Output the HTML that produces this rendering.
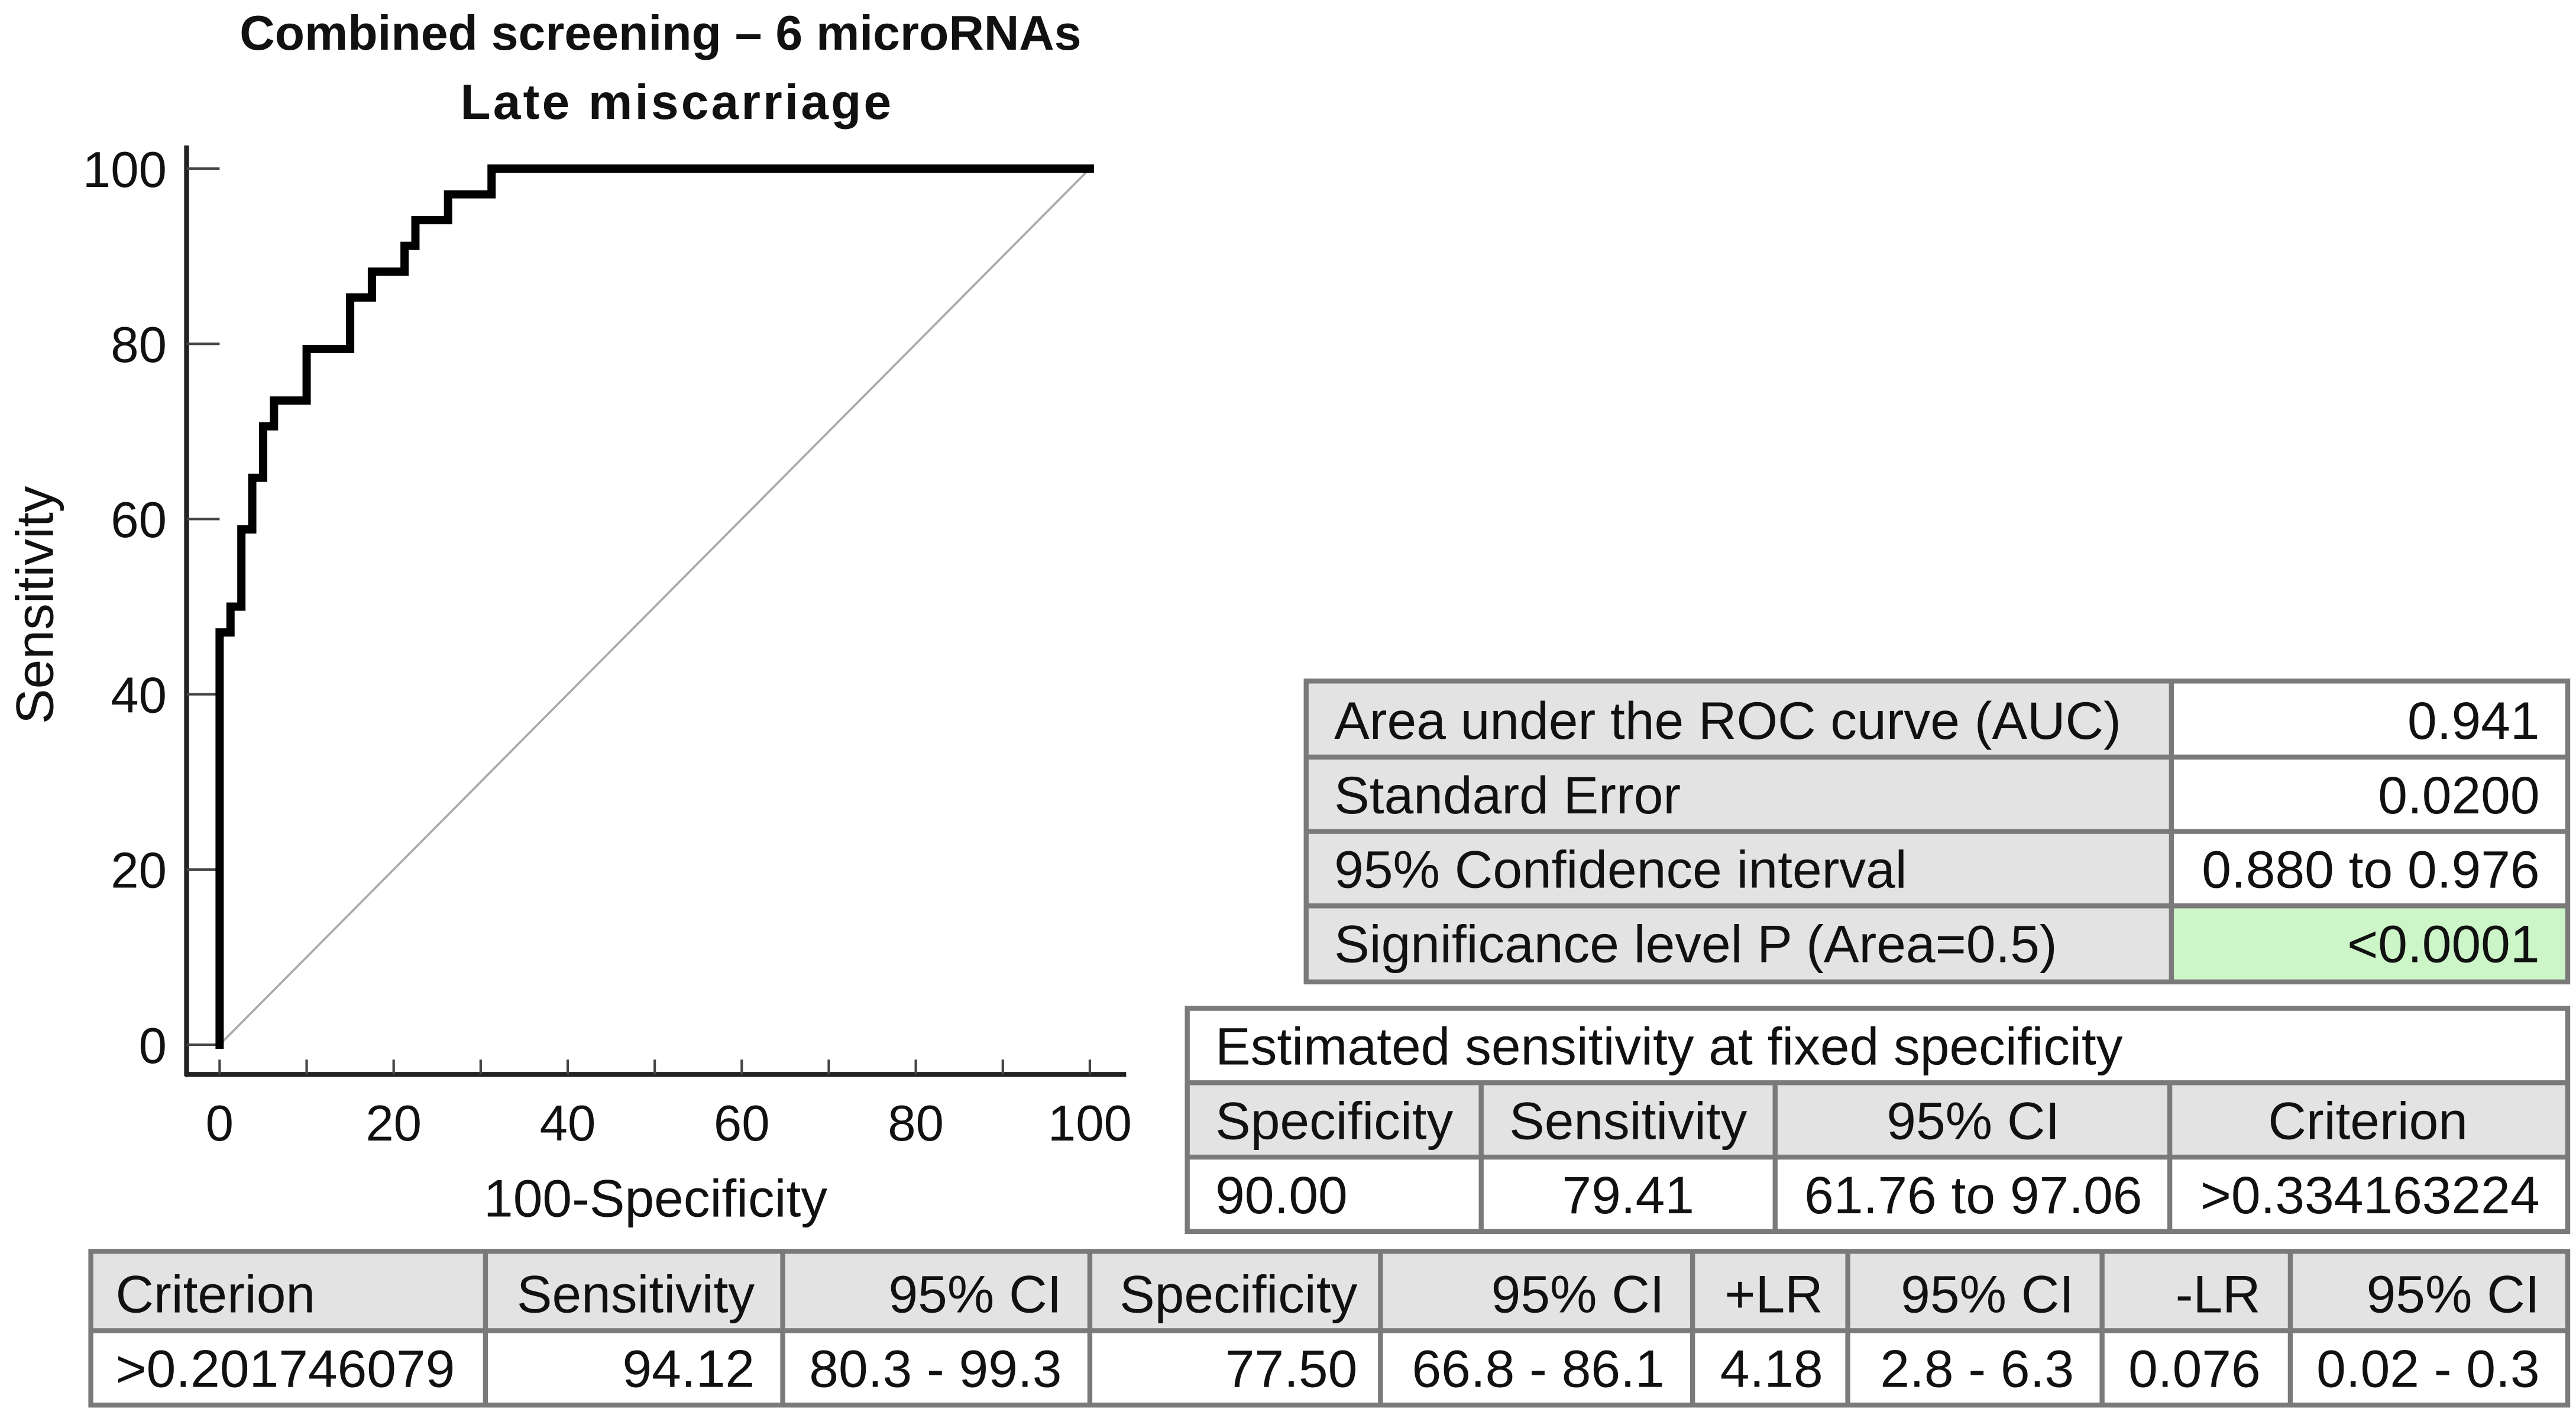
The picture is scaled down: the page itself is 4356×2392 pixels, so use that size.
<!DOCTYPE html>
<html><head><meta charset="utf-8"><style>
html,body{margin:0;padding:0;background:#fff;}
svg{display:block;}
text{font-family:"Liberation Sans",Arial,sans-serif;fill:#111;}
.t{font-size:32px;}
</style></head><body>
<svg id="chart" width="4356" height="2392" viewBox="0 0 1560 856" preserveAspectRatio="none" xmlns="http://www.w3.org/2000/svg">
<rect x="0" y="0" width="1560" height="856" fill="#fff"/>
<text x="400" y="30" text-anchor="middle" font-weight="bold" style="font-size:29.5px">Combined screening – 6 microRNAs</text>
<text x="410" y="72" text-anchor="middle" font-weight="bold" style="font-size:30px;letter-spacing:1.5px">Late miscarriage</text>
<g id="plot"></g>
<text transform="translate(32,366) rotate(-90)" text-anchor="middle" style="font-size:32px">Sensitivity</text>
<text x="397" y="736" text-anchor="middle" style="font-size:32px">100-Specificity</text>

<!-- AUC table -->
<g class="t">
<rect x="791" y="412" width="524" height="182" fill="#e3e3e3"/>
<rect x="1315" y="412" width="240" height="136" fill="#fff"/>
<rect x="1315" y="548" width="240" height="46" fill="#ccf5c8"/>
<g stroke="#7a7a7a" stroke-width="3" fill="none">
<rect x="791" y="412" width="764" height="182"/>
<line x1="791" y1="458" x2="1555" y2="458"/><line x1="791" y1="503" x2="1555" y2="503"/><line x1="791" y1="548" x2="1555" y2="548"/>
<line x1="1315" y1="412" x2="1315" y2="594"/>
</g>
<text x="808" y="447">Area under the ROC curve (AUC)</text>
<text x="1538" y="447" text-anchor="end">0.941</text>
<text x="808" y="492">Standard Error</text>
<text x="1538" y="492" text-anchor="end">0.0200</text>
<text x="808" y="537">95% Confidence interval</text>
<text x="1538" y="537" text-anchor="end">0.880 to 0.976</text>
<text x="808" y="582">Significance level P (Area=0.5)</text>
<text x="1538" y="582" text-anchor="end">&lt;0.0001</text>
</g>

<!-- fixed specificity table -->
<g class="t">
<rect x="719" y="655" width="836" height="45" fill="#e3e3e3"/>
<g stroke="#7a7a7a" stroke-width="3" fill="none">
<rect x="719" y="610" width="836" height="135"/>
<line x1="719" y1="655" x2="1555" y2="655"/><line x1="719" y1="700" x2="1555" y2="700"/>
<line x1="897" y1="655" x2="897" y2="745"/><line x1="1075" y1="655" x2="1075" y2="745"/><line x1="1314" y1="655" x2="1314" y2="745"/>
</g>
<text x="736" y="644">Estimated sensitivity at fixed specificity</text>
<text x="736" y="689">Specificity</text>
<text x="986" y="689" text-anchor="middle">Sensitivity</text>
<text x="1195" y="689" text-anchor="middle">95% CI</text>
<text x="1434" y="689" text-anchor="middle">Criterion</text>
<text x="736" y="734">90.00</text>
<text x="986" y="734" text-anchor="middle">79.41</text>
<text x="1195" y="734" text-anchor="middle">61.76 to 97.06</text>
<text x="1538" y="734" text-anchor="end">&gt;0.334163224</text>
</g>

<!-- criterion table -->
<g class="t">
<rect x="55" y="757" width="1500" height="48" fill="#e3e3e3"/>
<g stroke="#7a7a7a" stroke-width="3" fill="none">
<rect x="55" y="757" width="1500" height="93"/>
<line x1="55" y1="805" x2="1555" y2="805"/>
<line x1="294" y1="757" x2="294" y2="850"/><line x1="474" y1="757" x2="474" y2="850"/><line x1="660" y1="757" x2="660" y2="850"/><line x1="836" y1="757" x2="836" y2="850"/><line x1="1025" y1="757" x2="1025" y2="850"/><line x1="1119" y1="757" x2="1119" y2="850"/><line x1="1273" y1="757" x2="1273" y2="850"/><line x1="1387" y1="757" x2="1387" y2="850"/>
</g>
<text x="70" y="794">Criterion</text>
<text x="457" y="794" text-anchor="end">Sensitivity</text>
<text x="643" y="794" text-anchor="end">95% CI</text>
<text x="822" y="794" text-anchor="end">Specificity</text>
<text x="1008" y="794" text-anchor="end">95% CI</text>
<text x="1104" y="794" text-anchor="end">+LR</text>
<text x="1256" y="794" text-anchor="end">95% CI</text>
<text x="1369" y="794" text-anchor="end">-LR</text>
<text x="1538" y="794" text-anchor="end">95% CI</text>
<text x="70" y="839">&gt;0.201746079</text>
<text x="457" y="839" text-anchor="end">94.12</text>
<text x="643" y="839" text-anchor="end">80.3 - 99.3</text>
<text x="822" y="839" text-anchor="end">77.50</text>
<text x="1008" y="839" text-anchor="end">66.8 - 86.1</text>
<text x="1104" y="839" text-anchor="end">4.18</text>
<text x="1256" y="839" text-anchor="end">2.8 - 6.3</text>
<text x="1369" y="839" text-anchor="end">0.076</text>
<text x="1538" y="839" text-anchor="end">0.02 - 0.3</text>
</g>
</svg>
<script>
const rocFpr = [0, 0, 1.25, 2.5, 3.75, 5, 6.25, 10, 15, 17.5, 21.25, 22.5, 26.25, 31.25, 100];
const rocTpr = [0, 47.06, 50, 58.82, 64.71, 70.59, 73.53, 79.41, 85.29, 88.24, 91.18, 94.12, 97.06, 100, 100];
const xTicks = [0, 10, 20, 30, 40, 50, 60, 70, 80, 90, 100];
const xTickLabels = ["0", "20", "40", "60", "80", "100"];
const yTickLabels = ["0", "20", "40", "60", "80", "100"];

const NS = "http://www.w3.org/2000/svg";
const g = document.getElementById("plot");
function sx(v){ return 133 + v * (660 - 133) / 100; }
function sy(v){ return 632 - v * (632 - 102) / 100; }
function mk(tag, attrs){ const e = document.createElementNS(NS, tag); for (const k in attrs) e.setAttribute(k, attrs[k]); g.appendChild(e); return e; }

let ya = mk("line", {x1:113, y1:88, x2:113, y2:651, stroke:"#222", "stroke-width":3});


let xa = mk("line", {x1:112, y1:650, x2:682, y2:650, stroke:"#222", "stroke-width":3});



xTicks.forEach(v => {
  const t = mk("line", {x1:sx(v), y1:650, x2:sx(v), y2:641, stroke:"#444", "stroke-width":1.5});
  
  
});
xTickLabels.forEach(s => {
  const t = mk("text", {x:sx(+s), y:690, "text-anchor":"middle", style:"font-size:30.5px"});
  t.textContent = s;
  
  
});
yTickLabels.forEach(s => {
  const t = mk("line", {x1:113, y1:sy(+s), x2:133, y2:sy(+s), stroke:"#444", "stroke-width":1.5});
  
  
  const l = mk("text", {x:101, y:sy(+s)+11, "text-anchor":"end", style:"font-size:30.5px"});
  l.textContent = s;
  
  
});

const diag = mk("line", {x1:sx(0), y1:sy(0), x2:sx(100), y2:sy(100), stroke:"#aaa", "stroke-width":1.3});



let d = "M" + sx(rocFpr[0]) + " " + sy(rocTpr[0]);
for (let i = 1; i < rocFpr.length; i++) {
  d += " H" + sx(rocFpr[i]) + " V" + sy(rocTpr[i]);
}
const roc = mk("path", {d:d, fill:"none", stroke:"#000", "stroke-width":5, "stroke-linejoin":"miter", "stroke-linecap":"square"});


</script>
</body></html>
